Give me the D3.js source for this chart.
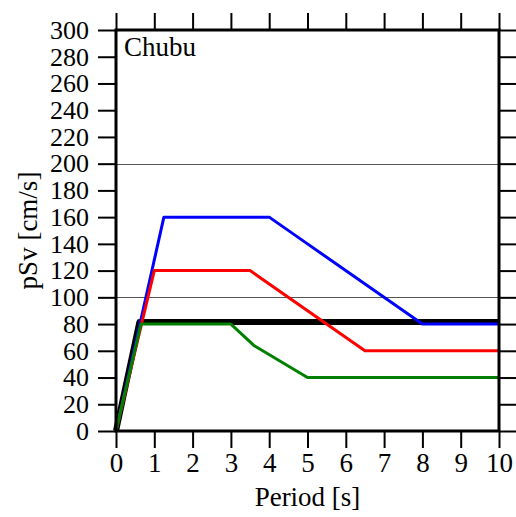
<!DOCTYPE html>
<html lang="en">
  <head>
    <meta charset="UTF-8" />
    <title>Chubu pSv</title>
    <script src="https://d3js.org/d3.v7.min.js"></script>
    <style>
      body { margin: 0; background: #fff; }
      .axis path { display: none; }
      .axis line { stroke: #000; stroke-width: 2; }
      .line { fill: none; stroke-linejoin: round; }
    </style>
  </head>
  <body></body>
  <script type="text/javascript">
    var width = 516,
      height = 517;
    var serif = '"Liberation Serif", "Times New Roman", Times, "DejaVu Serif", serif';

    // tick values
    var xTicks = [0, 1, 2, 3, 4, 5, 6, 7, 8, 9, 10];
    var yTicks = d3.range(0, 301, 20);
    var gridValues = [100, 200];

    // series: period [s] and pSv [cm/s]
    var blackPeriod = [0, 0.61, 10];
    var blackPSv = [0, 81.5, 81.5];
    var bluePeriod = [0, 1.25, 4, 5, 8, 10];
    var bluePSv = [0, 160, 160, 140, 80, 80];
    var redPeriod = [0, 1, 3.5, 6.5, 10];
    var redPSv = [0, 120, 120, 60, 60];
    var greenPeriod = [0, 0.65, 3, 3.6, 5, 10];
    var greenPSv = [0, 80, 80, 64, 40, 40];

    var series = [
      { p: blackPeriod, v: blackPSv, color: '#000', w: 6 },
      { p: bluePeriod, v: bluePSv, color: '#0000ff', w: 3 },
      { p: redPeriod, v: redPSv, color: '#ff0000', w: 3 },
      { p: greenPeriod, v: greenPSv, color: '#008000', w: 3 }
    ];

    var plotL = 116, plotR = 499, plotT = 30, plotB = 431;

    var x = d3.scaleLinear().domain([0, 10]).range([plotL, plotR]);
    var y = d3.scaleLinear().domain([0, 300]).range([plotB, plotT]);

    var svg = d3.select('body').append('svg')
      .attr('width', width)
      .attr('height', height);

    // grid lines
    svg.selectAll('.grid').data(gridValues).enter().append('line')
      .attr('x1', plotL - 3).attr('x2', plotR)
      .attr('y1', d => Math.round(y(d)) + 0.5)
      .attr('y2', d => Math.round(y(d)) + 0.5)
      .attr('stroke', '#555').attr('stroke-width', 1);

    // lines
    var line = d3.line().x(d => x(d[0])).y(d => y(d[1]));
    series.forEach(s => {
      svg.append('path')
        .attr('class', 'line')
        .attr('d', line(s.p.map((p, i) => [p, s.v[i]])))
        .attr('stroke', s.color)
        .attr('stroke-width', s.w);
    });

    // axes
    var xAxisG = svg.append('g').attr('class', 'axis')
      .attr('transform', `translate(0,${plotB})`)
      .call(d3.axisBottom(x).tickValues(xTicks).tickSize(17).tickPadding(5).tickFormat(d3.format('d')));
    svg.append('g').attr('class', 'axis')
      .attr('transform', `translate(0,${plotT})`)
      .call(d3.axisTop(x).tickValues(xTicks).tickSize(17).tickFormat(''));
    var yAxisG = svg.append('g').attr('class', 'axis')
      .attr('transform', `translate(${plotL},0)`)
      .call(d3.axisLeft(y).tickValues(yTicks).tickSize(18).tickPadding(9).tickFormat(d3.format('d')));
    svg.append('g').attr('class', 'axis')
      .attr('transform', `translate(${plotR},0)`)
      .call(d3.axisRight(y).tickValues(yTicks).tickSize(17).tickFormat(''));

    svg.selectAll('.axis')
      .attr('font-family', null)
      .attr('font-size', null);
    svg.selectAll('.axis text')
      .style('font-family', serif)
      .style('fill', '#000');
    xAxisG.selectAll('text').style('font-size', '27px');
    yAxisG.selectAll('text').style('font-size', '26px');

    // frame
    svg.append('rect')
      .attr('x', plotL).attr('y', plotT)
      .attr('width', plotR - plotL).attr('height', plotB - plotT)
      .attr('fill', 'none').attr('stroke', '#000').attr('stroke-width', 3);

    // labels
    svg.append('text')
      .attr('x', 124).attr('y', 56)
      .style('font-family', serif)
      .style('font-size', '27px')
      .text('Chubu');

    svg.append('text')
      .attr('x', (plotL + plotR) / 2).attr('y', 506)
      .attr('text-anchor', 'middle')
      .style('font-family', serif)
      .style('font-size', '27px')
      .text('Period [s]');

    svg.append('text')
      .attr('transform', `translate(37,${(plotT + plotB) / 2}) rotate(-90)`)
      .attr('text-anchor', 'middle')
      .style('font-family', serif)
      .style('font-size', '27px')
      .text('pSv [cm/s]');
  </script>
</html>
